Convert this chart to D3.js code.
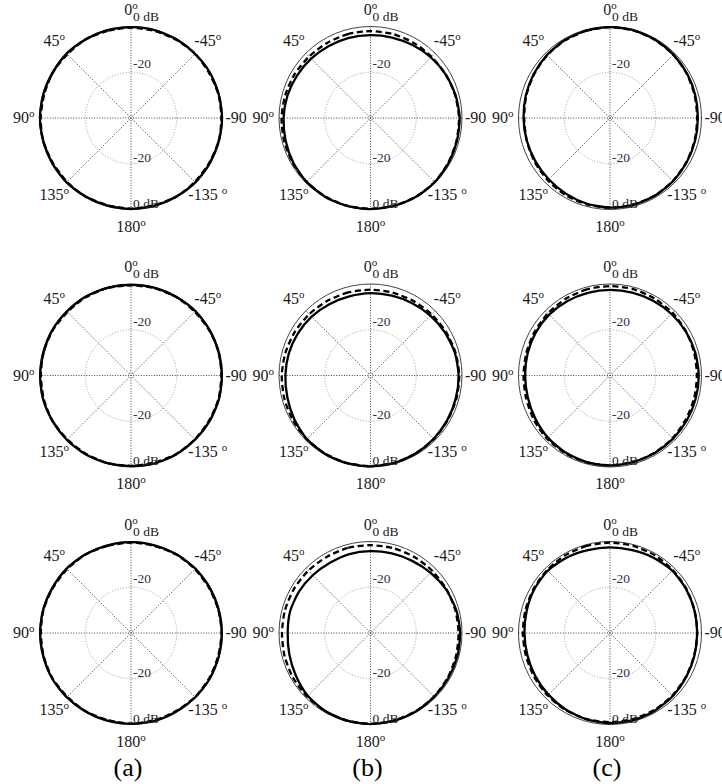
<!DOCTYPE html>
<html>
<head>
<meta charset="utf-8">
<script src="https://cdn.jsdelivr.net/npm/d3@7"></script>
<style>
  html, body { margin: 0; padding: 0; background: #fff; }
  svg { display: block; }
  svg text { font-family: "Liberation Serif", "DejaVu Serif", "Times New Roman", serif; }
</style>
</head>
<body>
<svg id="chart" width="722" height="784"></svg>
<script>
// ---------------- DATA ----------------
const angles = [0, 15, 30, 45, 60, 75, 90, 105, 120, 135, 150, 165, 180,
                -165, -150, -135, -120, -105, -90, -75, -60, -45, -30, -15];

const dbDomain = [-40, 0];
const gridLevels = [-20];
const ringLabels = ["-20", "0 dB"];
const spokeAngles = [0, 45, 90, 135];
const angleTicks = [0, 45, 90, 135, 180, -135, -90, -45];
const angleTickLabels = ["0", "45", "90", "135", "180", "-135 ", "-90", "-45"];
const columnLabels = ["(a)", "(b)", "(c)"];

// column (a)
const a1Solid = [-0.3,-0.2,-0.4,-0.2,-0.5,-0.3,-0.2,-0.4,-0.3,-0.2,-0.4,-0.3,-0.2,-0.3,-0.4,-0.2,-0.3,-0.4,-0.2,-0.3,-0.2,-0.4,-0.3,-0.2];
const a1Dash  = [-0.5,-0.6,-0.3,-0.6,-0.4,-0.7,-0.5,-0.3,-0.6,-0.5,-0.3,-0.5,-0.4,-0.5,-0.3,-0.5,-0.6,-0.3,-0.5,-0.4,-0.6,-0.3,-0.5,-0.6];
const a2Solid = [-0.4,-0.3,-0.2,-0.4,-0.3,-0.5,-0.3,-0.2,-0.4,-0.3,-0.2,-0.3,-0.4,-0.2,-0.3,-0.4,-0.3,-0.2,-0.3,-0.4,-0.3,-0.2,-0.4,-0.3];
const a2Dash  = [-0.6,-0.4,-0.5,-0.7,-0.5,-0.4,-0.6,-0.5,-0.3,-0.6,-0.5,-0.4,-0.5,-0.6,-0.4,-0.5,-0.6,-0.4,-0.5,-0.3,-0.5,-0.6,-0.4,-0.5];
const a3Solid = [-0.3,-0.4,-0.3,-0.2,-0.4,-0.3,-0.3,-0.4,-0.2,-0.3,-0.4,-0.3,-0.3,-0.2,-0.4,-0.3,-0.2,-0.3,-0.3,-0.4,-0.3,-0.2,-0.3,-0.4];
const a3Dash  = [-0.5,-0.6,-0.4,-0.5,-0.6,-0.4,-0.6,-0.5,-0.4,-0.6,-0.5,-0.6,-0.4,-0.5,-0.6,-0.4,-0.5,-0.6,-0.4,-0.5,-0.6,-0.5,-0.4,-0.6];

// column (b)
const b1Solid = [-3.8,-3.7,-3.6,-3.3,-2.9,-2.4,-2.0,-1.6,-1.0,-0.5,-0.3,-0.2,-0.2,-0.3,-0.2,-0.3,-0.6,-0.9,-1.0,-1.5,-2.0,-2.6,-3.2,-3.6];
const b1Dash  = [-2.0,-2.0,-2.1,-2.0,-1.7,-1.4,-1.1,-0.9,-0.7,-0.5,-0.4,-0.3,-0.3,-0.3,-0.3,-0.4,-0.8,-1.1,-1.3,-1.7,-2.0,-2.2,-2.1,-2.0];
const b2Solid = [-4.0,-4.2,-4.0,-3.6,-3.3,-3.0,-2.8,-2.4,-1.6,-0.7,-0.4,-0.3,-0.3,-0.4,-0.6,-0.9,-1.2,-1.4,-1.5,-1.8,-2.4,-3.0,-3.5,-3.9];
const b2Dash  = [-2.5,-2.4,-2.3,-2.1,-1.8,-1.5,-1.2,-1.0,-0.8,-0.6,-0.5,-0.4,-0.4,-0.5,-0.6,-0.8,-1.0,-1.1,-1.2,-1.5,-1.9,-2.2,-2.4,-2.5];
const b3Solid = [-4.2,-4.3,-4.6,-4.3,-3.9,-3.6,-3.8,-3.3,-2.4,-1.2,-0.6,-0.3,-0.2,-0.3,-0.4,-0.6,-0.7,-0.7,-0.8,-1.2,-1.9,-2.8,-3.6,-4.0];
const b3Dash  = [-1.6,-1.5,-1.6,-1.5,-1.4,-1.3,-1.3,-1.1,-0.9,-0.7,-0.5,-0.4,-0.3,-0.4,-0.5,-0.7,-1.0,-1.3,-1.5,-1.6,-1.7,-1.7,-1.6,-1.6];

// column (c)
const c1Solid = [-0.3,-0.4,-0.6,-1.0,-1.5,-1.9,-2.2,-2.3,-2.3,-2.1,-1.7,-1.2,-0.8,-0.7,-0.8,-1.0,-1.3,-1.5,-1.6,-1.4,-1.1,-0.8,-0.5,-0.3];
const c1Dash  = [-0.3,-0.5,-0.8,-1.2,-1.7,-2.1,-2.5,-2.3,-1.9,-1.5,-1.1,-0.9,-0.8,-0.8,-0.9,-1.1,-1.4,-1.7,-1.9,-1.7,-1.3,-0.9,-0.6,-0.4];
const c2Solid = [-2.6,-2.6,-2.5,-2.4,-2.5,-2.7,-2.9,-2.8,-2.3,-1.6,-1.1,-0.8,-0.7,-0.8,-0.9,-1.0,-1.1,-1.2,-1.2,-1.4,-1.7,-2.0,-2.3,-2.5];
const c2Dash  = [-0.9,-1.0,-1.3,-1.6,-1.9,-2.1,-2.2,-2.0,-1.5,-1.0,-0.8,-0.7,-0.7,-0.8,-1.0,-1.3,-1.7,-1.9,-2.0,-1.9,-1.6,-1.3,-1.1,-0.9];
const c3Solid = [-2.6,-2.5,-2.0,-1.5,-1.8,-2.3,-2.6,-2.6,-2.3,-1.9,-1.4,-0.9,-0.6,-0.6,-0.8,-1.1,-1.5,-1.8,-1.9,-1.8,-1.6,-1.5,-2.0,-2.5];
const c3Dash  = [-0.5,-0.6,-0.8,-1.1,-1.4,-1.7,-1.9,-1.9,-1.7,-1.4,-1.1,-1.0,-1.0,-1.1,-1.2,-1.4,-1.7,-1.9,-1.9,-1.7,-1.4,-1.1,-0.8,-0.6];

const panelData = [
  [[a1Solid, a1Dash], [b1Solid, b1Dash], [c1Solid, c1Dash]],
  [[a2Solid, a2Dash], [b2Solid, b2Dash], [c2Solid, c2Dash]],
  [[a3Solid, a3Dash], [b3Solid, b3Dash], [c3Solid, c3Dash]]
];

// ---------------- LAYOUT ----------------
const R = 91.5;
const colX = d3.scalePoint().domain([0, 1, 2]).range([131, 610]);
const rowY = d3.scalePoint().domain([0, 1, 2]).range([118, 633]);
const rScale = d3.scaleLinear().domain(dbDomain).range([0, R]);
const toRad = d => d * Math.PI / 180;

const svg = d3.select("#chart");

const line = d3.lineRadial()
  .angle(d => toRad(-d[0]))
  .radius(d => rScale(d[1]))
  .curve(d3.curveCardinalClosed.tension(0.3));

for (let row = 0; row < 3; row++) {
  for (let col = 0; col < 3; col++) {
    const cx = colX(col), cy = rowY(row);
    const g = svg.append("g").attr("transform", `translate(${cx},${cy})`);

    // spokes
    spokeAngles.forEach(a => {
      const t = toRad(a);
      g.append("line")
        .attr("x1", -R * Math.sin(t)).attr("y1", -R * Math.cos(t))
        .attr("x2", R * Math.sin(t)).attr("y2", R * Math.cos(t))
        .attr("stroke", "#444").attr("stroke-width", 1)
        .attr("stroke-dasharray", "1 1.6");
    });
    // grid circle(s)
    gridLevels.forEach(v => {
      g.append("circle").attr("r", rScale(v))
        .attr("fill", "none").attr("stroke", "#999").attr("stroke-width", 1)
        .attr("stroke-dasharray", "1 1.8");
    });
    g.append("circle").attr("r", 2.5)
      .attr("fill", "none").attr("stroke", "#888").attr("stroke-width", 0.8)
      .attr("stroke-dasharray", "1 1");
    // outer 0 dB circle
    g.append("circle").attr("r", rScale(0))
      .attr("fill", "none").attr("stroke", "#444").attr("stroke-width", 1);

    // data curves
    const [solid, dashed] = panelData[row][col];
    g.append("path")
      .datum(angles.map((a, i) => [a, dashed[i]]))
      .attr("d", line)
      .attr("fill", "none").attr("stroke", "#000").attr("stroke-width", 2.3)
      .attr("stroke-dasharray", "6 3.5");
    g.append("path")
      .datum(angles.map((a, i) => [a, solid[i]]))
      .attr("d", line)
      .attr("fill", "none").attr("stroke", "#000").attr("stroke-width", 2.3);

    // ring labels (top and bottom)
    [-20, 0].forEach((v, i) => {
      const txt = ringLabels[i];
      const fill = v === -20 ? "#2c2f4f" : "#222";
      g.append("text").attr("x", 2).attr("y", -rScale(v) - (v === 0 ? 6 : 4))
        .style("font-size", "13.5px").attr("fill", fill).text(txt);
      g.append("text").attr("x", 2).attr("y", rScale(v) - 2)
        .style("font-size", "13.5px").attr("fill", fill).text(txt);
    });

    // angle labels
    angleTicks.forEach((a, i) => {
      const t = toRad(a);
      const s = Math.sin(t);
      const rr = R + 17;
      let x = -rr * s, anchor = "middle";
      if (s > 0.9) { x = -R - 5; anchor = "end"; }
      else if (s < -0.9) { x = R + 3; anchor = "start"; }
      const y = -rr * Math.cos(t);
      const txt = angleTickLabels[i];
      const tx = g.append("text")
        .attr("x", x).attr("y", y + 5)
        .attr("text-anchor", anchor)
        .style("font-size", "16px").attr("fill", "#1a1a1a");
      tx.append("tspan").text(txt);
      if (txt !== "-90") {
        tx.append("tspan").style("font-size", "11px").attr("dy", -6).text("o");
      }
    });
  }
}

// column labels
columnLabels.forEach((t, i) => {
  svg.append("text")
    .attr("x", colX(i) - 3).attr("y", 776)
    .attr("text-anchor", "middle")
    .style("font-size", "26px").attr("fill", "#000")
    .text(t);
});
</script>
</body>
</html>
